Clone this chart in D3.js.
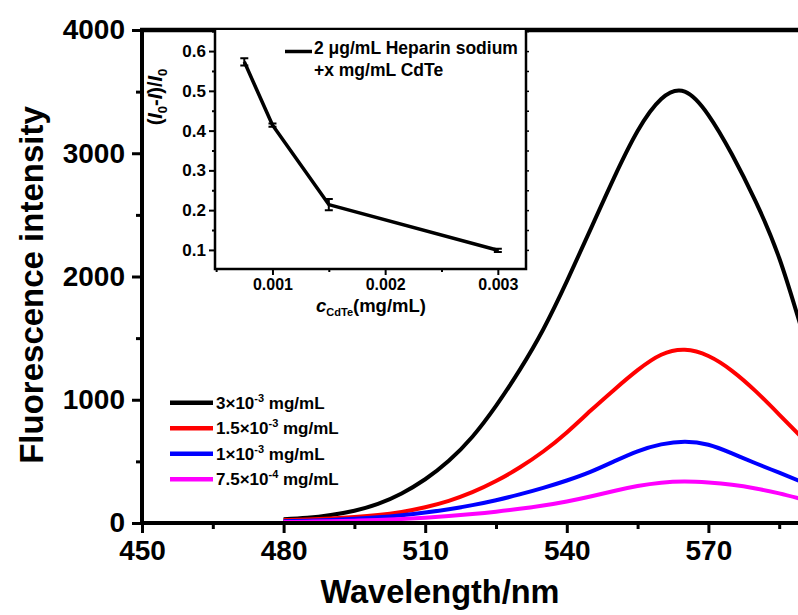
<!DOCTYPE html>
<html>
<head>
<meta charset="utf-8">
<script src="https://cdn.jsdelivr.net/npm/d3@7/dist/d3.min.js"></script>
<style>
  html, body { margin: 0; padding: 0; background: #fff; }
  svg { display: block; font-family: "Liberation Sans", Arial, sans-serif; font-weight: bold; }
</style>
</head>
<body>
<svg id="chart" width="798" height="615"></svg>
<script>
// emission spectra, every 5 nm
const wavelengths = [480, 485, 490, 495, 500, 505, 510, 515, 520, 525, 530, 535,
  540, 545, 550, 555, 560, 565, 570, 575, 580, 585, 590];
const intensity3e3 = [30, 42, 65, 100, 155, 240, 355, 505, 700, 950, 1240, 1570,
  1960, 2380, 2800, 3180, 3440, 3500, 3310, 2990, 2610, 2150, 1540];
const intensity15e4 = [24, 29, 37, 48, 64, 90, 128, 180, 250, 340, 450, 580,
  735, 910, 1080, 1240, 1365, 1405, 1355, 1235, 1070, 880, 685];
const intensity1e3 = [15, 19, 25, 34, 46, 63, 85, 112, 145, 185, 232, 285,
  345, 415, 500, 582, 638, 660, 635, 565, 485, 408, 330];
const intensity75e5 = [8, 11, 15, 19, 24, 32, 43, 57, 73, 92, 115, 142,
  175, 215, 260, 300, 327, 336, 328, 310, 280, 240, 192];

const seriesColors = ["#000000", "#ff0000", "#0000ff", "#ff00ff"];
const seriesLabels = [
  { base: "3×10", exp: "-3", unit: " mg/mL" },
  { base: "1.5×10", exp: "-3", unit: " mg/mL" },
  { base: "1×10", exp: "-3", unit: " mg/mL" },
  { base: "7.5×10", exp: "-4", unit: " mg/mL" }
];

const xMajorTicks = [450, 480, 510, 540, 570];
const xMinorTicks = [465, 495, 525, 555, 585];
const yMajorTicks = [0, 1000, 2000, 3000, 4000];
const yMinorTicks = [500, 1500, 2500, 3500];

// inset: quenching ratio vs CdTe concentration
const cdteConc = [0.00075, 0.001, 0.0015, 0.003];
const quenchRatio = [0.573, 0.414, 0.214, 0.099];
const quenchError = [0.009, 0.004, 0.014, 0.004];
const insetXTicks = [0.001, 0.002, 0.003];
const insetXMinor = [0.0005, 0.0015, 0.0025];
const insetYTicks = [0.1, 0.2, 0.3, 0.4, 0.5, 0.6];
const insetYMinor = [0.15, 0.25, 0.35, 0.45, 0.55, 0.65];

const svg = d3.select("#chart");

const x = d3.scaleLinear().domain([450, 600]).range([142, 850]);
const y = d3.scaleLinear().domain([0, 4000]).range([523, 30]);

const styleAxis = (g, fontSize, strokeWidth) => {
  g.attr("font-family", null).attr("font-size", null);
  g.select(".domain").remove();
  g.selectAll(".tick line").attr("stroke", "#000").attr("stroke-width", strokeWidth);
  g.selectAll(".tick text")
    .attr("fill", "#000")
    .style("font-size", `${fontSize}px`)
    .style("font-weight", "bold");
};

// curves
const series = [intensity3e3, intensity15e4, intensity1e3, intensity75e5];
const line = d3
  .line()
  .x((d, i) => x(wavelengths[i]))
  .y((d) => y(d))
  .curve(d3.curveNatural);

svg
  .append("g")
  .selectAll("path")
  .data(series)
  .join("path")
  .attr("d", (d) => line(d))
  .attr("fill", "none")
  .attr("stroke", (d, i) => seriesColors[i])
  .attr("stroke-width", 4)
  .attr("stroke-linejoin", "round");

// main axes
const xAxis = svg
  .append("g")
  .attr("transform", "translate(0,523)")
  .call(d3.axisBottom(x).tickValues(xMajorTicks).tickSize(10).tickSizeOuter(0).tickPadding(7));
styleAxis(xAxis, 28, 3);

const xMinor = svg
  .append("g")
  .attr("transform", "translate(0,523)")
  .call(d3.axisBottom(x).tickValues(xMinorTicks).tickSize(6).tickSizeOuter(0).tickFormat(""));
styleAxis(xMinor, 10, 3);

const yAxis = svg
  .append("g")
  .attr("transform", "translate(142,0)")
  .call(d3.axisLeft(y).tickValues(yMajorTicks).tickSize(10).tickSizeOuter(0).tickPadding(7)
    .tickFormat(d3.format("d")));
styleAxis(yAxis, 28, 3);

const yMinor = svg
  .append("g")
  .attr("transform", "translate(142,0)")
  .call(d3.axisLeft(y).tickValues(yMinorTicks).tickSize(6).tickSizeOuter(0).tickFormat(""));
styleAxis(yMinor, 10, 3);

// frame lines
svg.append("line").attr("x1", 142).attr("x2", 798).attr("y1", 523).attr("y2", 523)
  .attr("stroke", "#000").attr("stroke-width", 4);
svg.append("line").attr("x1", 142).attr("x2", 142).attr("y1", 28).attr("y2", 525)
  .attr("stroke", "#000").attr("stroke-width", 4);
svg.append("line").attr("x1", 140).attr("x2", 798).attr("y1", 30).attr("y2", 30)
  .attr("stroke", "#000").attr("stroke-width", 4.5);

// main titles
svg.append("text")
  .attr("x", 440).attr("y", 603)
  .attr("text-anchor", "middle")
  .style("font-size", "32.5px")
  .text("Wavelength/nm");

svg.append("text")
  .attr("transform", "translate(43,285) rotate(-90)")
  .attr("text-anchor", "middle")
  .style("font-size", "33px")
  .text("Fluorescence intensity");

// legend
const legend = svg
  .append("g")
  .selectAll("g")
  .data(seriesLabels)
  .join("g")
  .attr("transform", (d, i) => `translate(170,${402.7 + i * 25.5})`);

legend.append("line")
  .attr("x1", 0).attr("x2", 43)
  .attr("stroke", (d, i) => seriesColors[i])
  .attr("stroke-width", 4.5);

const legendText = legend.append("text")
  .attr("x", 46).attr("y", 6)
  .style("font-size", "17px");
legendText.append("tspan").text((d) => d.base);
legendText.append("tspan").attr("dy", -7).style("font-size", "11px").text((d) => d.exp);
legendText.append("tspan").attr("dy", 7).text((d) => d.unit);

// inset
const ix = d3.scaleLinear().domain([0.00049, 0.00325]).range([215, 526]);
const iy = d3.scaleLinear().domain([0.052, 0.653]).range([269, 30]);

svg.append("rect")
  .attr("x", 215).attr("y", 30).attr("width", 311).attr("height", 239)
  .attr("fill", "#fff");

const ixAxis = svg.append("g")
  .attr("transform", "translate(0,269)")
  .call(d3.axisBottom(ix).tickValues(insetXTicks).tickSize(6).tickSizeOuter(0).tickPadding(4)
    .tickFormat(d3.format(".3f")));
styleAxis(ixAxis, 16, 2);

const ixMinor = svg.append("g")
  .attr("transform", "translate(0,269)")
  .call(d3.axisBottom(ix).tickValues(insetXMinor).tickSize(3).tickSizeOuter(0).tickFormat(""));
styleAxis(ixMinor, 10, 2);

const iyAxis = svg.append("g")
  .attr("transform", "translate(215,0)")
  .call(d3.axisLeft(iy).tickValues(insetYTicks).tickSize(6).tickSizeOuter(0).tickPadding(3)
    .tickFormat(d3.format(".1f")));
styleAxis(iyAxis, 17, 2);

const iyMinor = svg.append("g")
  .attr("transform", "translate(215,0)")
  .call(d3.axisLeft(iy).tickValues(insetYMinor).tickSize(3).tickSizeOuter(0).tickFormat(""));
styleAxis(iyMinor, 10, 2);

const iyRight = svg.append("g")
  .attr("transform", "translate(526,0)")
  .call(d3.axisRight(iy).tickValues(insetYTicks.concat(insetYMinor)).tickSize(3).tickSizeOuter(0).tickFormat(""));
styleAxis(iyRight, 10, 1.5);

svg.append("path")
  .attr("d", "M215,30V269H526V30")
  .attr("fill", "none")
  .attr("stroke", "#000")
  .attr("stroke-width", 2.5);

const insetPoints = cdteConc.map((c, i) => ({ c, r: quenchRatio[i], e: quenchError[i] }));

svg.append("path")
  .datum(insetPoints)
  .attr("d", d3.line().x((d) => ix(d.c)).y((d) => iy(d.r)))
  .attr("fill", "none")
  .attr("stroke", "#000")
  .attr("stroke-width", 3.5)
  .attr("stroke-linejoin", "round");

svg.append("g")
  .selectAll("path")
  .data(insetPoints)
  .join("path")
  .attr("d", (d) => {
    const cx = ix(d.c);
    const top = iy(d.r + d.e);
    const bottom = iy(d.r - d.e);
    return `M${cx - 4},${top}H${cx + 4}M${cx},${top}V${bottom}M${cx - 4},${bottom}H${cx + 4}`;
  })
  .attr("fill", "none")
  .attr("stroke", "#000")
  .attr("stroke-width", 2);

// inset legend
svg.append("line")
  .attr("x1", 285).attr("x2", 312).attr("y1", 51.5).attr("y2", 51.5)
  .attr("stroke", "#000").attr("stroke-width", 3.5);
svg.append("text")
  .attr("x", 314).attr("y", 54)
  .style("font-size", "17.5px")
  .text("2 μg/mL Heparin sodium");
svg.append("text")
  .attr("x", 314).attr("y", 75.5)
  .style("font-size", "17.5px")
  .text("+x mg/mL CdTe");

// inset axis titles
const iyTitle = svg.append("text")
  .attr("transform", "translate(162,97) rotate(-90)")
  .attr("text-anchor", "middle")
  .style("font-size", "20px");
iyTitle.append("tspan").text("(");
iyTitle.append("tspan").style("font-style", "italic").text("I");
iyTitle.append("tspan").attr("dy", 5).style("font-size", "13px").text("0");
iyTitle.append("tspan").attr("dy", -5).text("-");
iyTitle.append("tspan").style("font-style", "italic").text("I");
iyTitle.append("tspan").text(")/");
iyTitle.append("tspan").style("font-style", "italic").text("I");
iyTitle.append("tspan").attr("dy", 5).style("font-size", "13px").text("0");

const ixTitle = svg.append("text")
  .attr("x", 371).attr("y", 312)
  .attr("text-anchor", "middle")
  .style("font-size", "18.5px");
ixTitle.append("tspan").style("font-style", "italic").text("c");
ixTitle.append("tspan").attr("dy", 4).style("font-size", "11px").text("CdTe");
ixTitle.append("tspan").attr("dy", -4).text("(mg/mL)");
</script>
</body>
</html>
